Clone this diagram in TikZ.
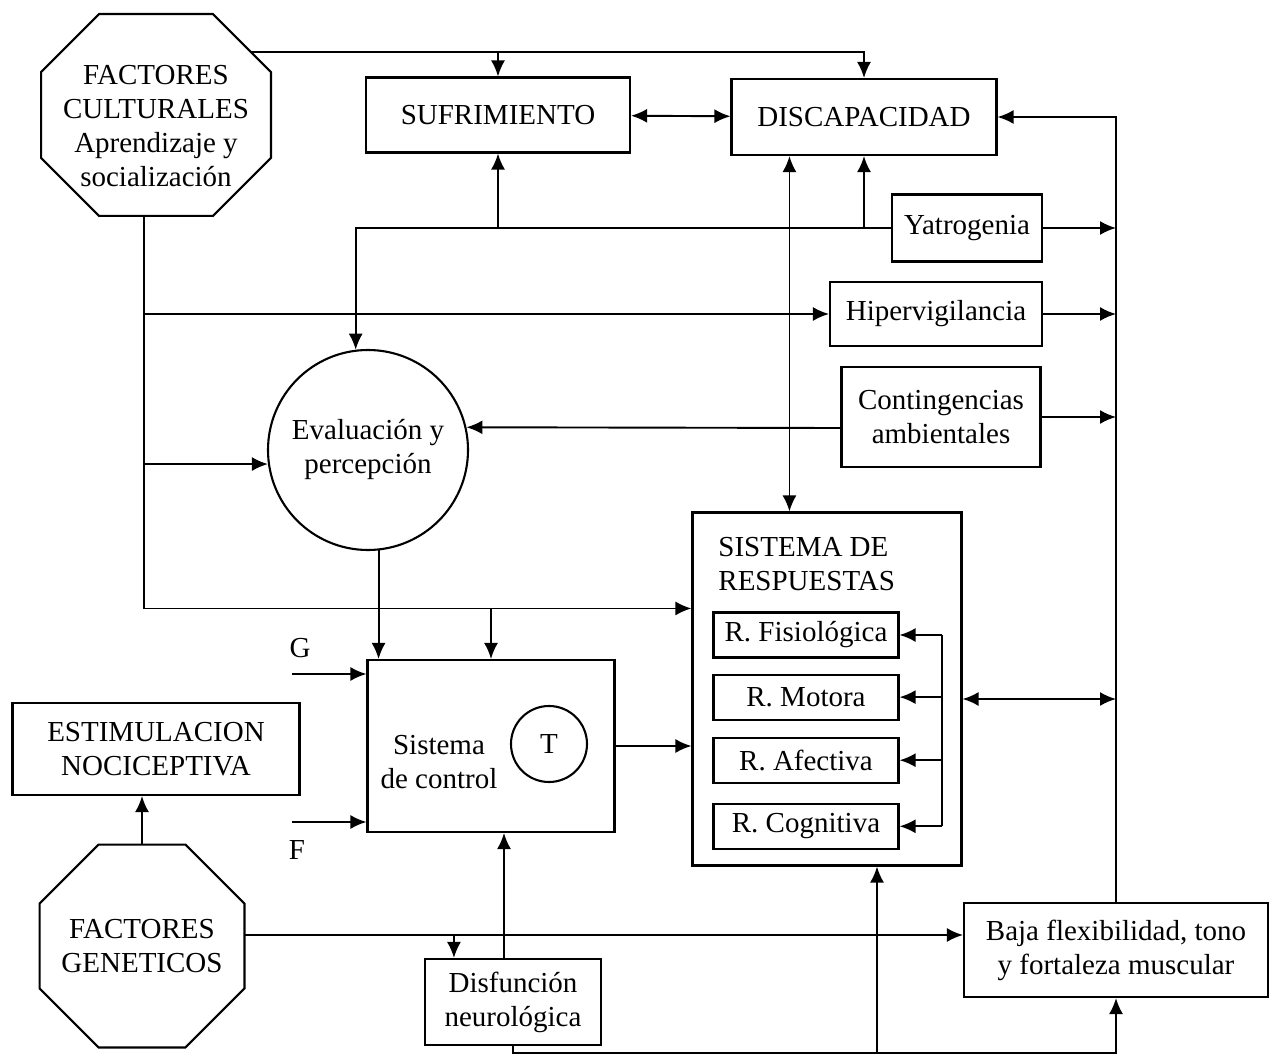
\documentclass[tikz,border=0pt]{standalone}
\usepackage{fontspec}
\setmainfont{Liberation Serif}
\usepackage{tikz}
\usetikzlibrary{arrows.meta, positioning}
\tikzstyle{block} = [rectangle, draw, fill=white, align=center, inner sep=0pt, line width=2.1pt]
\tikzstyle{hold} = [rectangle, align=center, inner sep=0pt]
\tikzstyle{ring} = [circle, draw, align=center, inner sep=0pt, line width=2.1pt]
% octagon round a hold node
\newcommand{\octoframe}[2]{%
  \draw[line width=2.1pt] ([xshift=#2]#1.north west) -- ([xshift=-#2]#1.north east)
    -- ([yshift=-#2]#1.north east) -- ([yshift=#2]#1.south east)
    -- ([xshift=-#2]#1.south east) -- ([xshift=#2]#1.south west)
    -- ([yshift=#2]#1.south west) -- ([yshift=-#2]#1.north west) -- cycle;}

\begin{document}
\begin{tikzpicture}[
x=1pt, y=-1pt,
line width=1.9pt,
>={Latex[length=16pt,width=14pt]},
font=\fontsize{29}{34}\selectfont,
resp box/.style = {block, minimum width=185pt, minimum height=45pt},
                        ]
\useasboundingbox (0,0) rectangle (1271,1056);

% upper half
\node[hold, minimum width=228pt, minimum height=200pt,
    label={[yshift=-11pt, align=center]center:FACTORES\\CULTURALES\\Aprendizaje y\\socialización}]
    (cult) at (156,115) {};
\octoframe{cult}{58pt}
\node[block, minimum width=264pt, minimum height=75pt] (sufr) at (498,115) {SUFRIMIENTO};
\node[block, minimum width=265pt, minimum height=76pt] (disc) at (864,117) {DISCAPACIDAD};
\node[block, minimum width=150pt, minimum height=67pt] (yat) at (967,228) {Yatrogenia};
\node[block, minimum width=212pt, minimum height=64pt] (hip) at (936,314) {Hipervigilancia};
\node[block, minimum width=199pt, minimum height=100pt] (cont) at (941,417)
    {Contingencias\\ambientales};
\node[ring, minimum size=200pt] (eval) at (368,450) {Evaluación y\\percepción};

% sistema de respuestas
\node[block, minimum width=269pt, minimum height=353pt] (resp) at (827,689) {};
\node[anchor=north west, align=left, inner sep=0pt] (rtit)
    at ([xshift=26pt,yshift=-25pt]resp.north west) {SISTEMA DE\\RESPUESTAS};
\node[resp box] (fis) at (806,635) {R. Fisiológica};
\node[resp box, below=15pt of fis] (mot) {R. Motora};
\node[resp box, below=16pt of mot] (afe) {R. Afectiva};
\node[resp box, below=19pt of afe] (cog) {R. Cognitiva};

% sistema de control
\node[block, minimum width=247pt, minimum height=172pt] (ctrl) at (491,746) {};
\node[align=center, inner sep=0pt] (ctrltxt) at (439,762) {Sistema\\de control};
\node[ring, minimum size=76pt] (tnode) at (549,744) {T};
\node (g) at (300,648) {G};
\node (f) at (297,850) {F};
\coordinate (gin) at (292,674);
\coordinate (fin) at (292,822);

% lower half
\node[block, minimum width=287pt, minimum height=92pt] (estim) at (156,749)
    {ESTIMULACION\\NOCICEPTIVA};
\node[hold, minimum width=203pt, minimum height=201pt] (gen) at (142,946)
    {FACTORES\\GENETICOS};
\octoframe{gen}{59pt}
\node[block, minimum width=176pt, minimum height=86pt] (disf) at (513,1002)
    {Disfunción\\neurológica};
\node[block, minimum width=304pt, minimum height=94pt] (baja) at (1116,950)
    {Baja flexibilidad, tono\\y fortaleza muscular};

% culturales -> sufrimiento, discapacidad
\path ([xshift=-21pt,yshift=-38pt]cult.north east) coordinate (ct);
\draw[->] (ct) -| (disc.north);
\draw[->] (sufr.north |- ct) -- (sufr.north);
\draw[<->] (sufr) -- (disc);

% yatrogenia line
\draw[->] (yat.west) -| (eval.97);
\draw[->] (sufr.south |- yat.west) -- (sufr.south);
\draw[->] (disc.south |- yat.west) -- (disc.south);
\path (disc.south west) ++(59,0) coordinate (dd);
\draw[<->] (dd) -- (dd |- resp.north);

% left trunk
\path (cult.south) ++(-12,0) coordinate (cs);
\path (resp.north west) ++(0,97) coordinate (rin);
\draw[->] (cs) |- (rin);
\draw[->] (cs |- hip.west) -- (hip.west);
\draw[->] (cs |- eval.188) -- (eval.188);
\draw[->] (ctrl.north |- rin) -- (ctrl.north);
\draw[->] (eval.-84) -- (eval.-84 |- ctrl.north);
\draw[->] ([yshift=-11pt]cont.west) -- (eval.13);

% control
\draw[->] (gin) -- (gin -| ctrl.west);
\draw[->] (fin) -- (fin -| ctrl.west);
\draw[->] (ctrl.east) -- (ctrl.east -| resp.west);

% respuestas
\path (fis.east) ++(42,0) coordinate (br);
\draw (br |- fis.east) -- (br |- cog.east);
\foreach \n in {fis,mot,afe,cog}
    \draw[->] (br |- \n.east) -- (\n.east);

% right trunk
\draw[->] (baja.north) |- (disc.east);
\foreach \n in {yat,hip,cont}
    \draw[->] (\n.east) -- (\n.east -| baja.north);
\draw[<->] ([yshift=-10pt]resp.east) coordinate (re) -- (re -| baja.north);

% geneticos
\draw[->] (gen.north) -- (gen.north |- estim.south);
\draw[->] ([yshift=11pt]gen.east) coordinate (gl) -- (gl -| baja.west);
\path (disf.north west) ++(30,0) coordinate (dn);
\draw[->] (dn |- gl) -- (dn);
\path (ctrl.south) ++(13,0) coordinate (cb);
\draw[->] (cb |- disf.north) -- (cb);

% bottom line
\path (disf.south) ++(0,7) coordinate (low);
\draw[->] (disf.south) |- (low -| baja.south) -- (baja.south);
\path (resp.south) ++(50,0) coordinate (rs);
\draw[->] (rs |- low) -- (rs);
\end{tikzpicture}
\end{document}
